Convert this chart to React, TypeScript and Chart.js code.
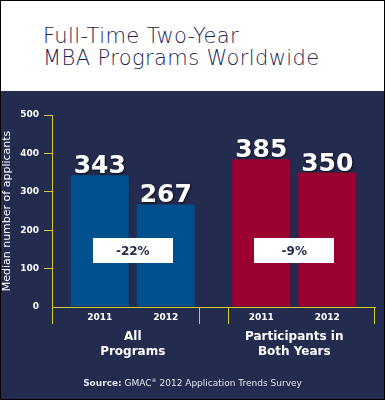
import React, { useEffect, useRef } from 'react';
import { Chart, registerables } from 'chart.js';

Chart.register(...registerables);

// ---- data ----
const TITLE_LINES = ['Full-Time Two-Year', 'MBA Programs Worldwide'];
const CATEGORIES = [['All', 'Programs'], ['Participants in', 'Both Years']];
const YEARS = ['2011', '2012'];
const VALUES_2011 = [343, 385];
const VALUES_2012 = [267, 350];
const CHANGE_LABELS = ['-22%', '-9%'];
const CHANGE_LABEL_AT = 147;
const Y_TICKS = [0, 100, 200, 300, 400, 500];
const Y_TITLE = 'Median number of applicants';
const SOURCE_BOLD = 'Source:';
const SOURCE_PREFIX = ' GMAC';
const SOURCE_MARK = '®';
const SOURCE_REST = ' 2012 Application Trends Survey';

// ---- styles ----
const NAVY = '#232b4e';
const BLUE = '#00508e';
const RED = '#9a0030';
const YELLOW = '#d6c92c';
const TITLE_COLOR = '#1c2552';
const FONT = '"DejaVu Sans", sans-serif';

const overlayPlugin = {
  id: 'overlay',
  afterDatasetsDraw(chart: any) {
    const { ctx, chartArea } = chart;
    const yScale = chart.scales.y;
    const xScale = chart.scales.x;

    // dividers under the x axis
    const boundary = (xScale.getPixelForValue(0) + xScale.getPixelForValue(1)) / 2;
    const divs = [chartArea.left, boundary - 14.5, boundary + 14.5, chartArea.right - 1];
    ctx.save();
    ctx.strokeStyle = YELLOW;
    ctx.lineWidth = 1;
    divs.forEach((dx) => {
      const px = Math.round(dx) + 0.5;
      ctx.beginPath();
      ctx.moveTo(px, chartArea.bottom);
      ctx.lineTo(px, chartArea.bottom + 17);
      ctx.stroke();
    });
    ctx.restore();

    chart.data.datasets.forEach((ds: any, di: number) => {
      const meta = chart.getDatasetMeta(di);
      meta.data.forEach((bar: any, i: number) => {
        // value labels
        ctx.save();
        ctx.shadowColor = 'rgba(0,0,0,0.6)';
        ctx.shadowBlur = 2;
        ctx.shadowOffsetX = 1;
        ctx.shadowOffsetY = 1;
        ctx.fillStyle = '#ffffff';
        ctx.font = `bold 25px ${FONT}`;
        ctx.textAlign = 'center';
        ctx.textBaseline = 'alphabetic';
        ctx.fillText(String(ds.data[i]), bar.x, bar.y - 2);
        ctx.restore();

        // year labels
        ctx.save();
        ctx.fillStyle = '#ffffff';
        ctx.font = `bold 9px ${FONT}`;
        ctx.textAlign = 'center';
        ctx.textBaseline = 'middle';
        ctx.fillText(YEARS[di], bar.x, chartArea.bottom + 11);
        ctx.restore();
      });
    });

    // change boxes
    CHANGE_LABELS.forEach((lbl, i) => {
      const b0 = chart.getDatasetMeta(0).data[i];
      const b1 = chart.getDatasetMeta(1).data[i];
      const cx = (b0.x + b1.x) / 2;
      const cy = yScale.getPixelForValue(CHANGE_LABEL_AT);
      ctx.save();
      ctx.fillStyle = '#ffffff';
      ctx.fillRect(Math.round(cx - 40), Math.round(cy - 12.5), 80, 25);
      ctx.fillStyle = NAVY;
      ctx.font = `bold 12px ${FONT}`;
      ctx.textAlign = 'center';
      ctx.textBaseline = 'middle';
      ctx.fillText(lbl, cx, cy + 1);
      ctx.restore();
    });
  },
};

function BarChart() {
  const ref = useRef<HTMLCanvasElement | null>(null);
  useEffect(() => {
    if (!ref.current) return;
    const chart = new Chart(ref.current, {
      type: 'bar',
      data: {
        labels: CATEGORIES as any,
        datasets: [
          { label: YEARS[0], data: VALUES_2011, backgroundColor: [BLUE, RED], borderWidth: 0 },
          { label: YEARS[1], data: VALUES_2012, backgroundColor: [BLUE, RED], borderWidth: 0 },
        ],
      },
      options: {
        animation: false,
        responsive: false,
        maintainAspectRatio: false,
        events: [],
        layout: { padding: { top: 115, right: 10, left: 0, bottom: 0 } },
        datasets: { bar: { categoryPercentage: 0.817, barPercentage: 0.879 } } as any,
        plugins: {
          legend: { display: false },
          tooltip: { enabled: false },
          title: { display: false },
        },
        scales: {
          x: {
            position: 'bottom',
            grid: { display: false, drawTicks: false },
            border: { display: true, color: YELLOW, width: 1 },
            ticks: {
              color: '#ffffff',
              font: { family: FONT, weight: 'bold', size: 12, lineHeight: 1.25 },
              padding: 22,
              maxRotation: 0,
              autoSkip: false,
            },
            afterFit: (s: any) => {
              s.height = 93;
            },
          } as any,
          y: {
            min: 0,
            max: 500,
            afterBuildTicks: (s: any) => {
              s.ticks = Y_TICKS.map((v) => ({ value: v }));
            },
            ticks: {
              color: '#ffffff',
              font: { family: FONT, weight: 'bold', size: 9 },
              padding: 5,
            },
            grid: {
              drawOnChartArea: false,
              drawTicks: true,
              tickLength: 8,
              color: (c: any) => (c.tick && c.tick.value === 0 ? 'rgba(0,0,0,0)' : YELLOW),
            },
            border: { display: true, color: YELLOW, width: 1 },
            title: {
              display: true,
              text: Y_TITLE,
              color: '#ffffff',
              font: { family: FONT, size: 11 },
              padding: { top: 1, bottom: 0 },
            },
            afterFit: (s: any) => {
              s.width = 52;
            },
          } as any,
        },
      },
      plugins: [overlayPlugin],
    });
    return () => chart.destroy();
  }, []);
  return (
    <canvas
      ref={ref}
      width={385}
      height={400}
      style={{ position: 'absolute', left: 0, top: 0, width: 385, height: 400 }}
    />
  );
}

export default function App() {
  return (
    <div style={{ position: 'relative', width: 385, height: 400, background: NAVY, overflow: 'hidden' }}>
      <style>{`body{margin:0}`}</style>
      <div style={{ position: 'absolute', left: 0, top: 0, width: 385, height: 91, background: '#ffffff' }} />
      <div
        style={{
          position: 'absolute',
          left: 43,
          top: 25,
          fontFamily: FONT,
          fontWeight: 200,
          fontSize: 21,
          lineHeight: '22px',
          letterSpacing: '0.4px',
          color: TITLE_COLOR,
          whiteSpace: 'pre',
        }}
      >
        {TITLE_LINES.map((l) => (
          <div key={l}>{l}</div>
        ))}
      </div>
      <BarChart />
      <div
        style={{
          position: 'absolute',
          left: 0,
          top: 378,
          width: 385,
          textAlign: 'center',
          fontFamily: FONT,
          fontSize: 9,
          lineHeight: '11px',
          color: '#e2e3ea',
          whiteSpace: 'pre',
        }}
      >
        <b>{SOURCE_BOLD}</b>
        {SOURCE_PREFIX}
        <sup style={{ fontSize: 5, lineHeight: 0 }}>{SOURCE_MARK}</sup>
        {SOURCE_REST}
      </div>
      <div
        style={{
          position: 'absolute',
          left: 0,
          top: 0,
          width: 385,
          height: 400,
          border: '1px solid #000',
          boxSizing: 'border-box',
          pointerEvents: 'none',
        }}
      />
    </div>
  );
}
